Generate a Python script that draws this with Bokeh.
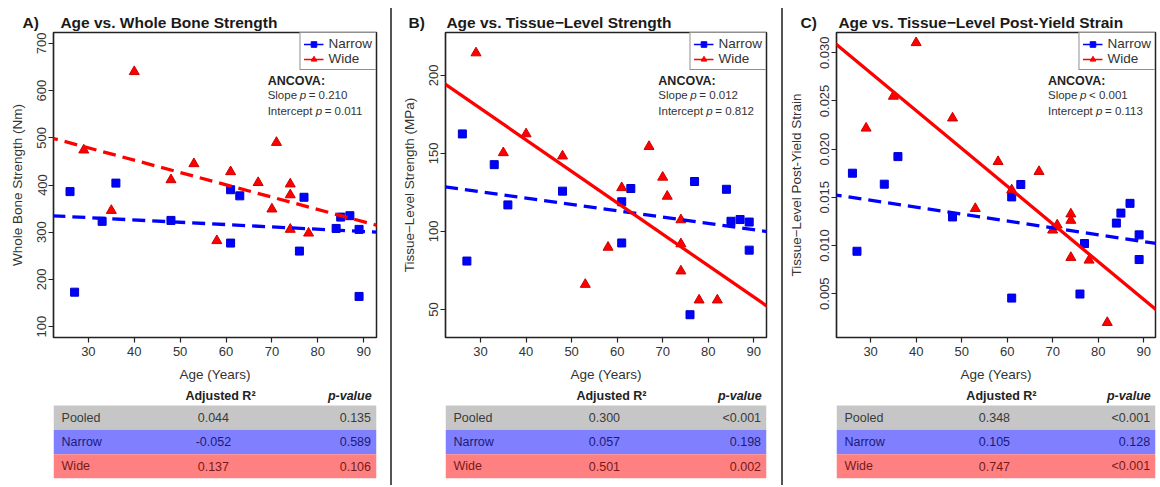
from bokeh.plotting import figure
from bokeh.models import Range1d, FixedTicker, Label, Legend, LegendItem, Slope, Div
from bokeh.layouts import row, column
from bokeh.embed import file_html
from bokeh.resources import INLINE
from bokeh.core.properties import value

FONT = "Liberation Sans"
NAN = float("nan")

# ---------------- data ----------------
x_ticks = [30, 40, 50, 60, 70, 80, 90]

# Panel A: whole bone strength (Nm)
A_narrow_age = [26, 27, 33, 36, 48, 61, 61, 63, 76, 77, 84, 85, 87, 89, 89]
A_narrow_val = [386, 173, 323, 404, 325, 390, 277, 377, 260, 374, 308, 332, 335, 306, 164]
A_wide_age = [29, 35, 40, 48, 53, 58, 61, 67, 70, 71, 74, 74, 74, 78]
A_wide_val = [474, 346, 640, 411, 445, 282, 428, 405, 349, 490, 402, 379, 306, 298]
A_fit_narrow = [-0.49, 345.6]   # slope, intercept
A_fit_wide = [-2.61, 557.0]
A_yticks = [100, 200, 300, 400, 500, 600, 700]
A_ytick_labels = ["100", "200", "300", "400", "500", "600", "700"]
A_ancova = ["= 0.210", "= 0.011"]
A_table_r2 = ["0.044", "-0.052", "0.137"]
A_table_p = ["0.135", "0.589", "0.106"]

# Panel B: tissue-level strength (MPa)
B_narrow_age = [26, 27, 33, 36, 48, 61, 61, 63, 76, 77, 84, 85, 87, 89, 89]
B_narrow_val = [162.5, 81, 142.8, 117, 125.8, 119, 92.6, 127.5, 46.6, 132, 127, 106.5, 107.6, 106, 88]
B_wide_age = [29, 35, 40, 48, 53, 58, 61, 67, 70, 71, 74, 74, 74, 78, 82]
B_wide_val = [214.4, 150.4, 162.5, 148.3, 66, 89.8, 128, 154.4, 134.7, 122.5, 107.4, 92, 74.6, 56, 56]
B_fit_narrow = [-0.406, 137.6]
B_fit_wide = [-2.014, 239.2]
B_yticks = [50, 100, 150, 200]
B_ytick_labels = ["50", "100", "150", "200"]
B_ancova = ["= 0.012", "= 0.812"]
B_table_r2 = ["0.300", "0.057", "0.501"]
B_table_p = ["<0.001", "0.198", "0.002"]

# Panel C: tissue-level post-yield strain
C_narrow_age = [26, 27, 33, 36, 48, 61, 61, 63, 76, 77, 84, 85, 87, 89, 89]
C_narrow_val = [0.0175, 0.0094, 0.01636, 0.01922, 0.01296, 0.01504, 0.00454, 0.01633,
                0.00496, 0.0102, 0.01232, 0.01336, 0.01437, 0.0111, 0.00854]
C_wide_age = [29, 35, 40, 48, 53, 58, 61, 67, 70, 71, 74, 74, 74, 78, 82]
C_wide_val = [0.02217, 0.02548, 0.03104, 0.02322, 0.01383, 0.0187, 0.01576, 0.01767,
              0.01159, 0.01212, 0.01326, 0.0126, 0.00875, 0.00847, 0.0020]
C_fit_narrow = [-7.14e-5, 0.01683]
C_fit_wide = [-0.000392, 0.03968]
C_yticks = [0.005, 0.010, 0.015, 0.020, 0.025, 0.030]
C_ytick_labels = ["0.005", "0.010", "0.015", "0.020", "0.025", "0.030"]
C_ancova = ["< 0.001", "= 0.113"]
C_table_r2 = ["0.348", "0.105", "0.747"]
C_table_p = ["<0.001", "0.128", "<0.001"]

table_rows = ["Pooled", "Narrow", "Wide"]
table_fill = ["#c6c6c6", "#8080ff", "#ff8080"]
table_text_color = ["#3a3a3a", "#1a1a78", "#781a1a"]

BLUE = "#0000ff"
RED = "#ff0000"
AXC = "#222222"
NB = "\u00a0"


def make_panel(letter, title, ylabel, xr, yr, yticks, ylabels,
               nx, ny, wx, wy, fit_n, fit_w, wide_dash, ancova, r2, pv,
               width, left, right, ylab_standoff, title_offset):
    H1 = 385
    p = figure(width=width, height=H1, output_backend="svg", toolbar_location=None,
               x_range=Range1d(*xr), y_range=Range1d(*yr),
               min_border_left=left, min_border_right=right,
               min_border_top=32, min_border_bottom=48)
    p.grid.visible = False
    p.outline_line_color = AXC
    p.outline_line_width = 1.5
    p.background_fill_color = "white"
    p.border_fill_color = "white"

    # title (panel letter + title text)
    p.title.text = letter + NB * 5 + title
    p.title.align = "left"
    p.title.offset = title_offset
    p.title.standoff = 4
    p.title.text_font = FONT
    p.title.text_font_size = "15.5px"
    p.title.text_font_style = "bold"
    p.title.text_color = "#1a1a1a"

    for ax in (p.xaxis[0], p.yaxis[0]):
        ax.axis_line_color = AXC
        ax.axis_line_width = 1.2
        ax.major_tick_line_color = AXC
        ax.major_tick_line_width = 1.2
        ax.major_tick_out = 5
        ax.major_tick_in = 0
        ax.minor_tick_line_color = None
        ax.major_label_text_font = FONT
        ax.major_label_text_font_size = "13px"
        ax.major_label_text_color = "#333333"
        ax.axis_label_text_font = FONT
        ax.axis_label_text_font_size = "13.5px"
        ax.axis_label_text_font_style = "normal"
        ax.axis_label_text_color = "#333333"

    p.xaxis[0].ticker = FixedTicker(ticks=x_ticks, minor_ticks=[])
    p.xaxis[0].axis_label = "Age (Years)"
    p.xaxis[0].major_label_standoff = 4
    p.xaxis[0].axis_label_standoff = 8

    p.yaxis[0].ticker = FixedTicker(ticks=yticks, minor_ticks=[])
    p.yaxis[0].major_label_overrides = {t: l for t, l in zip(yticks, ylabels)}
    p.yaxis[0].major_label_orientation = "vertical"
    p.yaxis[0].major_label_standoff = 2
    p.yaxis[0].axis_label = ylabel
    p.yaxis[0].axis_label_standoff = ylab_standoff

    # points
    p.scatter(nx, ny, marker="square", size=8, fill_color=BLUE, line_color="#0000cc")
    p.scatter(wx, wy, marker="triangle", size=10, fill_color=RED, line_color="#cc0000")

    # regression lines
    p.add_layout(Slope(gradient=fit_n[0], y_intercept=fit_n[1], line_color=BLUE,
                       line_width=3.3, line_dash="13 7"))
    p.add_layout(Slope(gradient=fit_w[0], y_intercept=fit_w[1], line_color=RED,
                       line_width=3.3, line_dash=wide_dash))

    # legend (placeholder renderers that draw nothing in the frame)
    ln = p.line([NAN], [NAN], line_color=BLUE, line_width=1.5)
    sn = p.scatter([NAN], [NAN], marker="square", size=5, fill_color=BLUE, line_color=BLUE)
    lw = p.line([NAN], [NAN], line_color=RED, line_width=1.5)
    sw = p.scatter([NAN], [NAN], marker="triangle", size=6, fill_color=RED, line_color=RED)
    leg = Legend(items=[LegendItem(label="Narrow", renderers=[ln, sn]),
                        LegendItem(label="Wide", renderers=[lw, sw])],
                 location="top_right", margin=0, padding=3, spacing=0,
                 glyph_width=20, glyph_height=14, label_height=14, label_standoff=5,
                 label_text_font=FONT, label_text_font_size="13.5px",
                 label_text_color="#333333", label_text_line_height=1.0,
                 border_line_color=AXC, border_line_width=1.5,
                 background_fill_color="white", background_fill_alpha=1.0)
    p.add_layout(leg)

    def fx(f):
        return xr[0] + f * (xr[1] - xr[0])

    def fy(f):
        return yr[1] - f * (yr[1] - yr[0])

    # ANCOVA annotation
    ax0 = fx(0.663)
    common = dict(text_font=FONT, text_font_size="11.5px", text_baseline="middle",
                  text_color="#333333")
    p.add_layout(Label(x=ax0, y=fy(0.158), text="ANCOVA:", text_font_style="bold",
                       text_font=FONT, text_font_size="12.5px", text_baseline="middle",
                       text_color="#222222"))
    for frac, word, poff, eoff, val in ((0.204, "Slope", 32, 41, ancova[0]),
                                         (0.256, "Intercept", 48, 57, ancova[1])):
        p.add_layout(Label(x=ax0, y=fy(frac), text=word, **common))
        p.add_layout(Label(x=ax0, y=fy(frac), x_offset=poff, text="p",
                           text_font_style="italic", **common))
        p.add_layout(Label(x=ax0, y=fy(frac), x_offset=eoff, text=val, **common))

    # table
    t = figure(width=width, height=95, output_backend="svg", toolbar_location=None,
               x_range=Range1d(0, 1), y_range=Range1d(-0.5, 3.32),
               min_border_left=left, min_border_right=right,
               min_border_top=0, min_border_bottom=2,
               x_axis_location=None, y_axis_location=None)
    t.grid.visible = False
    t.outline_line_color = None
    t.hbar(y=[2, 1, 0], left=0, right=1, height=1, fill_color=table_fill, line_color=None)
    tf = value(FONT)
    t.text(x=[0.025] * 3, y=[2, 1, 0], text=table_rows, text_font=tf,
           text_font_size="12.5px", text_baseline="middle", text_align="left",
           text_color=table_text_color)
    t.text(x=[0.495] * 3, y=[2, 1, 0], text=r2, text_font=tf,
           text_font_size="12.5px", text_baseline="middle", text_align="center",
           text_color=table_text_color)
    t.text(x=[0.983] * 3, y=[2, 1, 0], text=pv, text_font=tf,
           text_font_size="12.5px", text_baseline="middle", text_align="right",
           text_color=table_text_color)
    t.add_layout(Label(x=0.517, y=2.87, text="Adjusted R\u00b2", text_font=FONT,
                       text_font_size="12.5px", text_font_style="bold",
                       text_align="center", text_baseline="middle", text_color="#222222"))
    t.add_layout(Label(x=0.985, y=2.87, text="p-value", text_font=FONT,
                       text_font_size="12.5px", text_font_style="bold italic",
                       text_align="right", text_baseline="middle", text_color="#222222"))
    return column(p, t)


colA = make_panel("A)", "Age vs. Whole Bone Strength", "Whole Bone Strength (Nm)",
                  (22.4, 92.8), (77, 723), A_yticks, A_ytick_labels,
                  A_narrow_age, A_narrow_val, A_wide_age, A_wide_val,
                  A_fit_narrow, A_fit_wide, "13 7", A_ancova, A_table_r2, A_table_p,
                  width=390, left=53, right=14, ylab_standoff=10, title_offset=-31)
colB = make_panel("B)", "Age vs. Tissue\u2212Level Strength", "Tissue\u2212Level Strength (MPa)",
                  (22.3, 92.8), (32, 227.5), B_yticks, B_ytick_labels,
                  B_narrow_age, B_narrow_val, B_wide_age, B_wide_val,
                  B_fit_narrow, B_fit_wide, "solid", B_ancova, B_table_r2, B_table_p,
                  width=389, left=53, right=15, ylab_standoff=10, title_offset=-37)
colC = make_panel("C)", "Age vs. Tissue\u2212Level Post-Yield Strain",
                  "Tissue\u2212Level Post-Yield Strain",
                  (22.5, 92.6), (0.00045, 0.0321), C_yticks, C_ytick_labels,
                  C_narrow_age, C_narrow_val, C_wide_age, C_wide_val,
                  C_fit_narrow, C_fit_wide, "solid", C_ancova, C_table_r2, C_table_p,
                  width=377, left=53, right=5, ylab_standoff=14, title_offset=-36)

sep1 = Div(width=2, height=477, margin=(8, 0, 0, 0), styles={"background-color": "#555555"})
sep2 = Div(width=2, height=477, margin=(8, 0, 0, 0), styles={"background-color": "#555555"})

layout = row(colA, sep1, colB, sep2, colC)

open("out.html", "w").write(file_html(layout, INLINE))
